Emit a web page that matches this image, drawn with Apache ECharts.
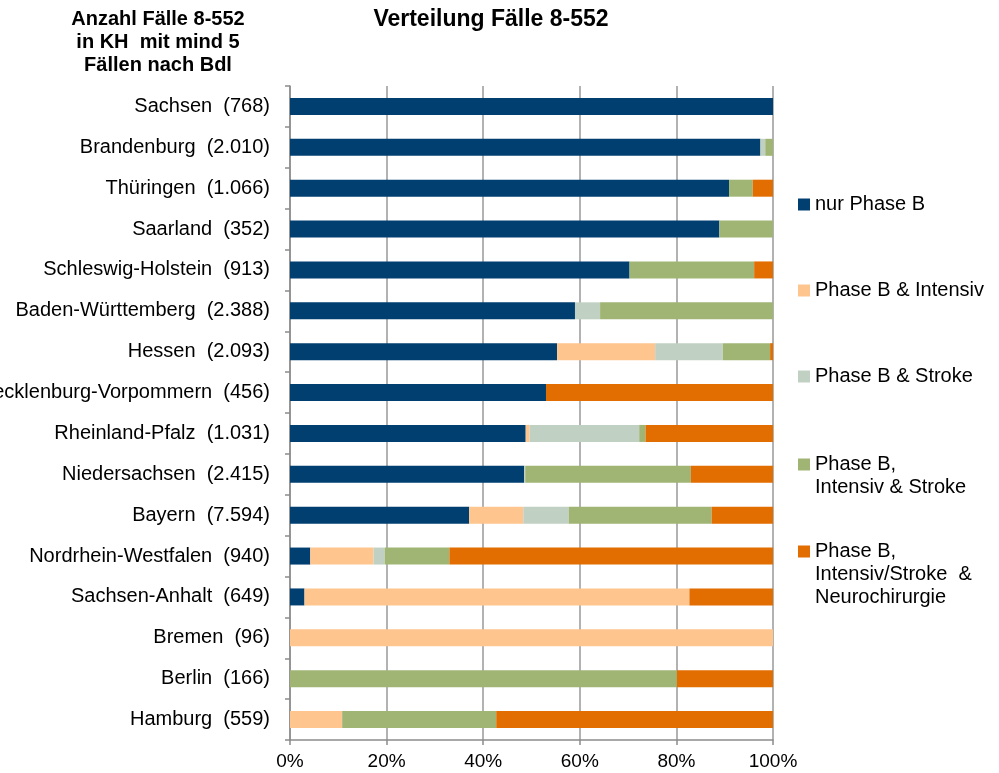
<!DOCTYPE html>
<html>
<head>
<meta charset="utf-8">
<script src="https://cdn.jsdelivr.net/npm/echarts@6/dist/echarts.min.js"></script>
<style>
  html, body { margin: 0; padding: 0; background: #fff; }
  #chart { width: 999px; height: 773px; }
</style>
</head>
<body>
<div id="chart"></div>
<script>
// Bundesländer, top to bottom
const categories = [
  'Sachsen  (768)', 'Brandenburg  (2.010)', 'Thüringen  (1.066)', 'Saarland  (352)',
  'Schleswig-Holstein  (913)', 'Baden-Württemberg  (2.388)', 'Hessen  (2.093)',
  'Mecklenburg-Vorpommern  (456)', 'Rheinland-Pfalz  (1.031)', 'Niedersachsen  (2.415)',
  'Bayern  (7.594)', 'Nordrhein-Westfalen  (940)', 'Sachsen-Anhalt  (649)',
  'Bremen  (96)', 'Berlin  (166)', 'Hamburg  (559)'
]

// shares in percent
const nurPhaseB = [100, 97.4, 90.9, 88.9, 70.3, 59.0, 55.3, 53.0, 48.8, 48.5, 37.1, 4.2, 3.0, 0, 0, 0]
const phaseBIntensiv = [0, 0, 0, 0, 0, 0, 20.3, 0, 0.8, 0, 11.2, 13.1, 79.7, 100, 0, 10.8]
const phaseBStroke = [0, 1.0, 0, 0, 0, 5.2, 14.0, 0, 22.7, 0.2, 9.4, 2.3, 0, 0, 0, 0]
const intensivStroke = [0, 1.6, 4.9, 11.1, 25.8, 35.8, 9.8, 0, 1.3, 34.3, 29.6, 13.4, 0, 0, 80.1, 31.9]
const neurochirurgie = [0, 0, 4.2, 0, 3.9, 0, 0.6, 47.0, 26.4, 17.0, 12.7, 67.0, 17.3, 0, 19.9, 57.3]

const xTicks = [0, 20, 40, 60, 80, 100]

const seriesDefs = [
  { name: 'nur Phase B', data: nurPhaseB, color: '#023f71' },
  { name: 'Phase B & Intensiv', data: phaseBIntensiv, color: '#fec58e' },
  { name: 'Phase B & Stroke', data: phaseBStroke, color: '#c0d1c3' },
  { name: 'Phase B,\nIntensiv & Stroke', data: intensivStroke, color: '#a0b574' },
  { name: 'Phase B,\nIntensiv/Stroke  &\nNeurochirurgie', data: neurochirurgie, color: '#e26d00' }
]

const font = 'Liberation Sans, Arial, sans-serif'
const lineH = 23
const legendTops = [193, 279, 365, 430, 494]

const chart = echarts.init(document.getElementById('chart'))

chart.setOption({
  animation: false,
  textStyle: { fontFamily: font },
  title: [
    {
      text: 'Verteilung Fälle 8-552',
      left: 486,
      top: 3,
      textAlign: 'center',
      textStyle: { fontSize: 23, fontWeight: 'bold', color: '#000', fontFamily: font }
    },
    {
      text: 'Anzahl Fälle 8-552\nin KH  mit mind 5\nFällen nach Bdl',
      left: 153,
      top: 3,
      textAlign: 'center',
      textStyle: { fontSize: 20, fontWeight: 'bold', color: '#000', lineHeight: lineH, fontFamily: font }
    }
  ],
  // one legend per entry, multi-line names keep the box next to their first line
  legend: seriesDefs.map((s, i) => {
    const lines = s.name.split('\n').length
    return {
      data: [s.name],
      left: 798,
      top: legendTops[i],
      orient: 'vertical',
      padding: 0,
      icon: 'rect',
      itemWidth: 12,
      itemHeight: 12,
      selectedMode: false,
      formatter: name => '\n'.repeat(lines - 1) + name,
      textStyle: {
        fontSize: 20,
        color: '#000',
        lineHeight: lineH,
        fontFamily: font
      }
    }
  }),
  grid: {
    left: 290,
    right: 226,
    top: 86,
    bottom: 33,
    outerBoundsMode: 'none'
  },
  xAxis: {
    type: 'value',
    min: xTicks[0],
    max: xTicks[xTicks.length - 1],
    interval: 20,
    axisLine: { show: true, lineStyle: { color: '#8c8c8c', width: 1.5 } },
    axisTick: { show: true, length: 5, lineStyle: { color: '#8c8c8c', width: 1.5 } },
    axisLabel: {
      formatter: '{value}%',
      fontSize: 19,
      color: '#000',
      margin: 12,
      fontFamily: font
    },
    splitLine: { show: true, lineStyle: { color: '#999', width: 1.5 } }
  },
  yAxis: {
    type: 'category',
    inverse: true,
    data: categories,
    axisLine: { show: true, lineStyle: { color: '#8c8c8c', width: 1.5 } },
    axisTick: { show: true, length: 5, lineStyle: { color: '#8c8c8c', width: 1.5 } },
    axisLabel: { fontSize: 20, color: '#000', margin: 20, fontFamily: font }
  },
  series: seriesDefs.map(s => ({
    name: s.name,
    type: 'bar',
    stack: 'total',
    barWidth: 17,
    data: s.data,
    itemStyle: { color: s.color }
  }))
})
</script>
</body>
</html>
